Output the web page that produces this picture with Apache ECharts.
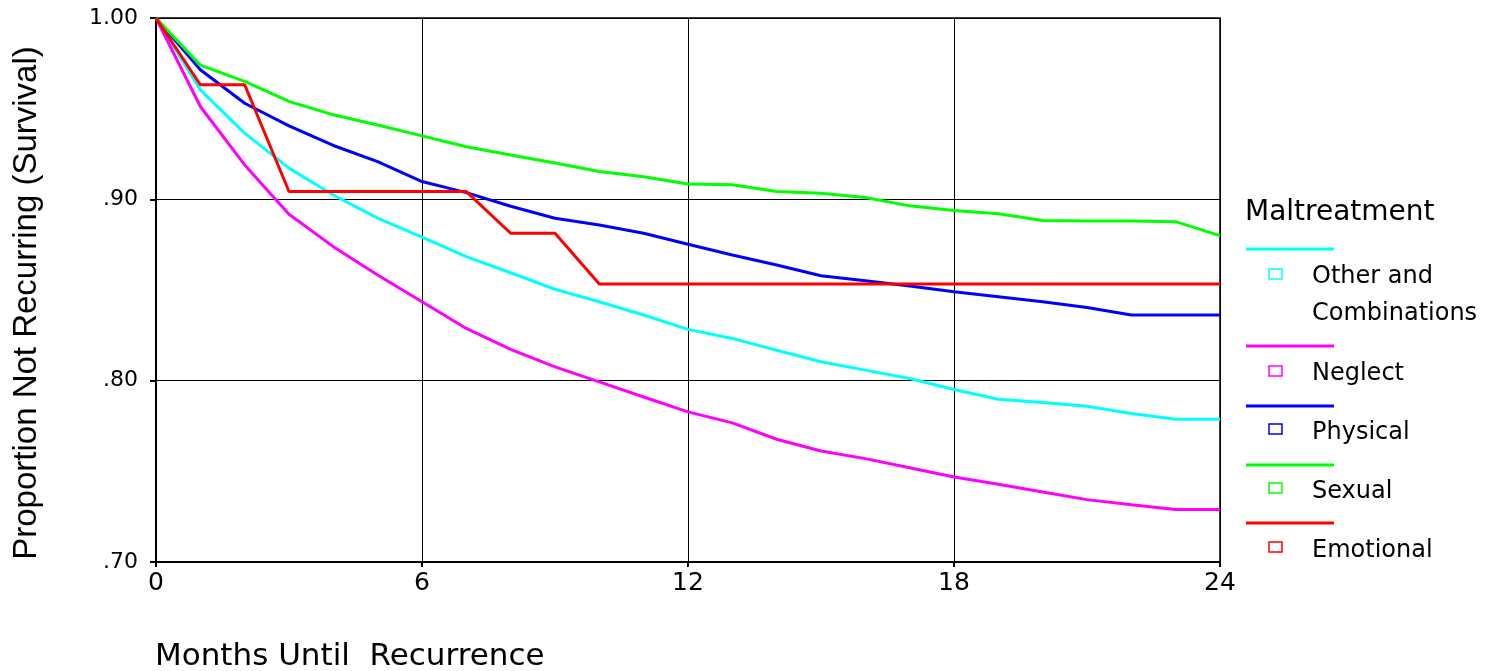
<!DOCTYPE html>
<html>
<head>
<meta charset="utf-8">
<script src="https://cdn.jsdelivr.net/npm/echarts@6/dist/echarts.min.js"></script>
<style>
html,body{margin:0;padding:0;background:#fff;}
#chart{width:1505px;height:671px;}
</style>
</head>
<body>
<div id="chart"></div>
<script>
// ---- data ----
var months = [0,1,2,3,4,5,6,7,8,9,10,11,12,13,14,15,16,17,18,19,20,21,22,23,24];
var otherCombinations = [1, .9604, .9365, .9172, .9024, .8896, .8791, .8684, .8595, .8504, .8435, .8362, .8283, .8233, .8168, .8104, .8058, .8012, .7951, .7898, .7880, .7859, .7819, .7787, .7787];
var neglect = [1, .9512, .9190, .8918, .8739, .8583, .8435, .8288, .8172, .8076, .7993, .7910, .7828, .7767, .7677, .7612, .7570, .7520, .7469, .7429, .7386, .7344, .7316, .7289, .7289];
var physical = [1, .9715, .9530, .9405, .9297, .9208, .9098, .9037, .8962, .8896, .8859, .8813, .8752, .8693, .8638, .8579, .8551, .8522, .8490, .8463, .8435, .8404, .8362, .8362, .8362];
var sexual = [1, .9740, .9650, .9540, .9466, .9410, .9350, .9290, .9245, .9200, .9153, .9125, .9085, .9080, .9043, .9034, .9010, .8964, .8938, .8920, .8883, .8880, .8880, .8877, .8800];
var emotional = [1, .9632, .9632, .9043, .9043, .9043, .9043, .9043, .8813, .8813, .8533, .8533, .8533, .8533, .8533, .8533, .8533, .8533, .8533, .8533, .8533, .8533, .8533, .8533, .8533];

var seriesNames = ['Other and\nCombinations', 'Neglect', 'Physical', 'Sexual', 'Emotional'];
var seriesColors = ['#00FFFF', '#FF00FF', '#0000FF', '#00FF00', '#FF0000'];
var seriesValues = [otherCombinations, neglect, physical, sexual, emotional];

var xTicks = [0, 6, 12, 18, 24];
var yTicks = [0.70, 0.80, 0.90, 1.00];
var legendTitle = 'Maltreatment';
var xTitle = 'Months Until  Recurrence';
var yTitle = 'Proportion Not Recurring (Survival)';

// ---- chart ----
var chart = echarts.init(document.getElementById('chart'));

var series = seriesValues.map(function (vals, i) {
  return {
    name: seriesNames[i],
    type: 'line',
    data: months.map(function (m, j) { return [m, vals[j]]; }),
    showSymbol: false,
    symbol: 'none',
    lineStyle: { color: seriesColors[i], width: 3 },
    itemStyle: { color: seriesColors[i] },
    animation: false,
    z: 3 + i
  };
});

// legend drawn as graphic (line + square + label)
var legendLineY = [249, 346, 406, 465, 523];
var legendBoxY = [274, 371, 429, 488, 547];
var legendTextY = [[277, 314], [374], [433], [492], [551]];
var graphics = [{
  type: 'text', x: 1245, y: 213,
  style: { text: legendTitle, fill: '#000', font: '28px "DejaVu Sans"', verticalAlign: 'middle', textVerticalAlign: 'middle' }
}];
seriesNames.forEach(function (name, i) {
  graphics.push({
    type: 'line',
    shape: { x1: 1246, y1: legendLineY[i], x2: 1334, y2: legendLineY[i] },
    style: { stroke: seriesColors[i], lineWidth: 3 }
  });
  graphics.push({
    type: 'rect',
    shape: { x: 1269, y: legendBoxY[i] - 5, width: 13, height: 10 },
    style: { fill: '#fff', stroke: seriesColors[i], lineWidth: 1.5 }
  });
  var lines = name.split('\n');
  lines.forEach(function (ln, k) {
    graphics.push({
      type: 'text', x: 1312, y: legendTextY[i][k],
      style: { text: ln, fill: '#000', font: '24px "DejaVu Sans"', textVerticalAlign: 'middle', verticalAlign: 'middle' }
    });
  });
});
graphics.push({
  type: 'text', x: 155, y: 657,
  style: { text: xTitle, fill: '#000', font: '31px "DejaVu Sans"', verticalAlign: 'middle', textVerticalAlign: 'middle' }
});

var option = {
  backgroundColor: '#fff',
  animation: false,
  grid: {
    left: 156, right: 285, top: 18, bottom: 109,
    show: true, borderColor: '#000', borderWidth: 1.5, backgroundColor: 'transparent'
  },
  xAxis: {
    type: 'value', min: 0, max: 24, interval: 6,
    axisLine: { show: true, lineStyle: { color: '#000', width: 2 } },
    axisTick: { show: true, inside: false, length: 5, lineStyle: { color: '#000', width: 2 } },
    axisLabel: {
      color: '#000', fontSize: 25, fontFamily: 'DejaVu Sans', margin: 9,
      formatter: function (v) { return xTicks.indexOf(v) >= 0 ? String(v) : ''; }
    },
    splitLine: { show: true, lineStyle: { color: '#000', width: 1 } }
  },
  yAxis: {
    type: 'value', min: 0.7, max: 1.0, interval: 0.1,
    name: yTitle, nameLocation: 'middle', nameGap: 113,
    nameTextStyle: { color: '#000', fontSize: 33, fontFamily: '"Liberation Sans", Arial, sans-serif', padding: [0, 26, 0, 0] },
    axisLine: { show: true, lineStyle: { color: '#000', width: 2 } },
    axisTick: { show: true, length: 6, lineStyle: { color: '#000', width: 2 } },
    axisLabel: {
      color: '#000', fontSize: 22, fontFamily: 'DejaVu Sans', margin: 18,
      formatter: function (v) {
        var r = Math.round(v * 100) / 100;
        var match = yTicks.filter(function (t) { return Math.abs(t - r) < 1e-6; });
        if (!match.length) return '';
        if (r >= 1) return '1.00';
        return '.' + String(Math.round(r * 100));
      }
    },
    splitLine: { show: true, lineStyle: { color: '#000', width: 1 } }
  },
  series: series,
  graphic: graphics
};
chart.setOption(option);
</script>
</body>
</html>
